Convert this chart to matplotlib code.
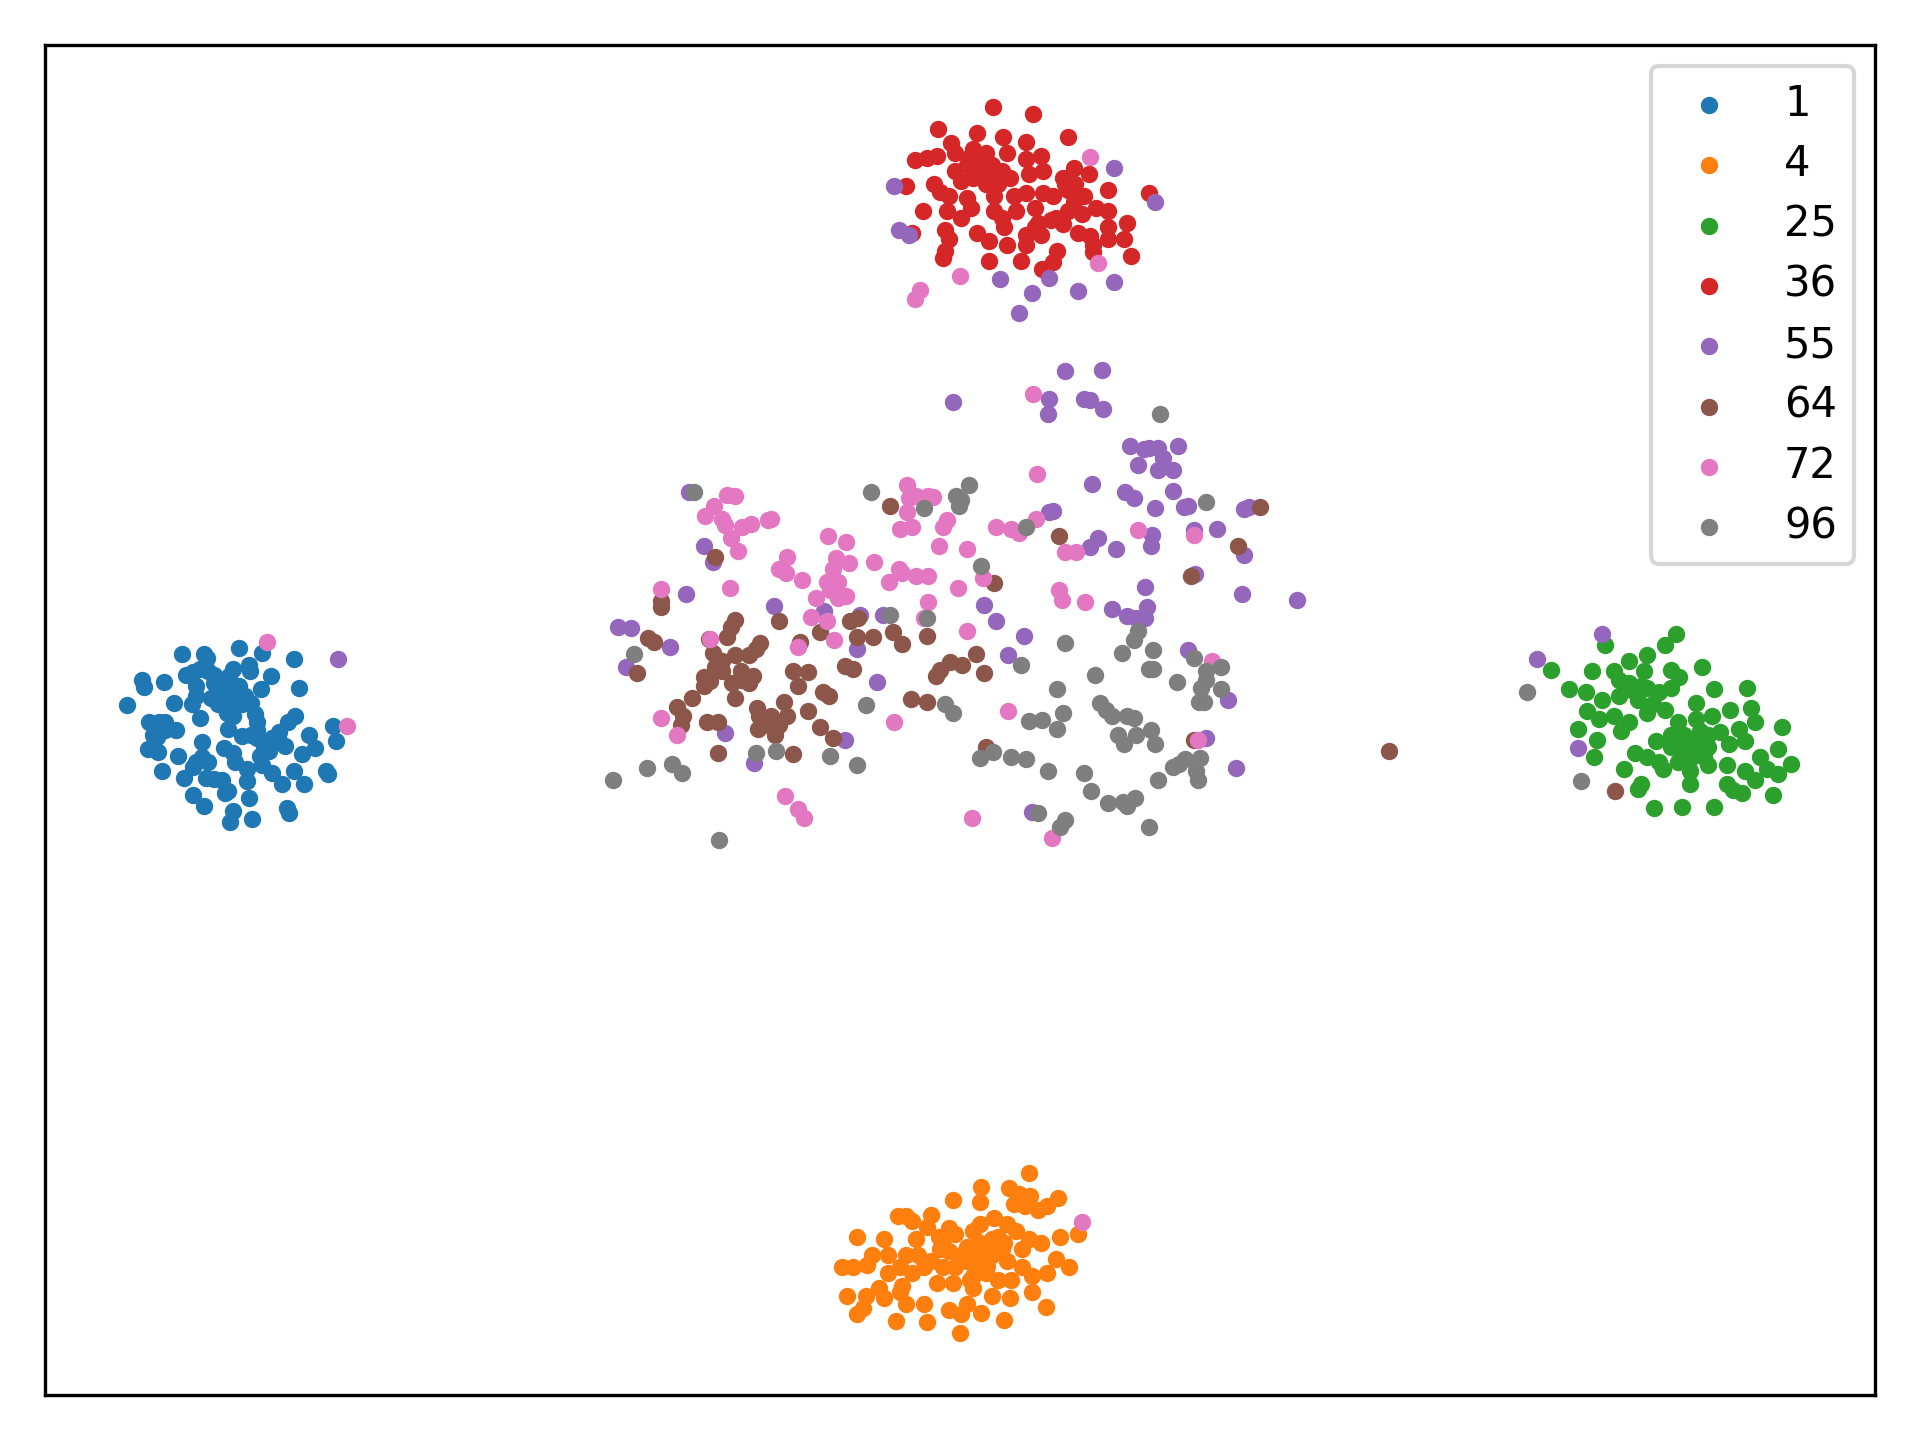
import matplotlib
matplotlib.use("Agg")
import matplotlib.pyplot as plt

labels = ["1", "4", "25", "36", "55", "64", "72", "96"]

c1 = [(104,576),(116,555),(118,561),(134,557),(149,534),(167,534),(169,537),(195,529),(214,533),(240,538),(152,551),(158,549),(163,546),(170,548),(175,551),(180,555),(190,546),(187,552),(203,543),(204,548),(221,552),(244,562),(160,560),(160,568),(157,575),(142,574),(177,565),(183,562),(190,565),(178,575),(187,572),(200,568),(205,574),(213,563),(122,590),(130,590),(135,590),(125,600),(128,602),(135,596),(144,596),(163,586),(186,595),(190,585),(208,583),(210,590),(198,601),(205,600),(210,603),(222,603),(228,598),(235,590),(241,585),(252,600),(272,593),(274,605),(121,612),(129,614),(145,617),(132,630),(150,635),(160,622),(165,618),(170,622),(183,611),(190,615),(165,606),(192,622),(202,628),(212,617),(220,613),(223,607),(233,609),(247,616),(257,611),(240,630),(248,640),(266,630),(268,632),(230,640),(222,631),(214,625),(202,638),(168,635),(175,636),(181,637),(186,646),(158,649),(167,658),(203,652),(234,660),(236,664),(190,662),(188,671),(206,669),(184,648),(175,558),(182,568),(195,560),(172,570),(210,596),(216,611),(228,605),(185,582),(198,575),(126,592),(158,626)]

c4 = [(840,958),(801,969),(824,970),(832,975),(828,983),(841,977),(864,978),(855,985),(848,988),(837,985),(800,982),(778,980),(760,992),(733,993),(740,993),(745,997),(880,1008),(866,1010),(850,1015),(840,1012),(830,1005),(822,1000),(812,995),(800,1000),(795,1005),(780,1008),(775,1003),(767,1010),(757,1002),(748,1012),(722,1012),(700,1010),(712,1025),(725,1025),(740,1025),(750,1025),(768,1020),(775,1022),(790,1018),(800,1015),(810,1012),(820,1015),(835,1020),(862,1028),(873,1035),(855,1040),(843,1042),(835,1035),(822,1030),(810,1025),(800,1030),(790,1030),(780,1035),(770,1035),(755,1035),(745,1040),(735,1035),(725,1040),(708,1033),(697,1035),(688,1035),(692,1058),(707,1058),(718,1052),(722,1060),(737,1050),(735,1055),(765,1048),(778,1048),(795,1042),(805,1040),(815,1045),(826,1045),(843,1055),(825,1060),(810,1058),(795,1052),(790,1065),(775,1070),(755,1065),(740,1065),(705,1068),(700,1073),(732,1079),(757,1080),(785,1073),(801,1072),(820,1078),(854,1067),(784,1089),(795,1020),(805,1022),(815,1010),(785,1025),(798,1038),(770,1012),(760,1030),(806,1034),(792,1045),(818,1020)]

c25 = [(1369,518),(1311,527),(1360,527),(1345,535),(1330,540),(1267,547),(1300,548),(1318,548),(1343,548),(1365,547),(1371,553),(1390,545),(1281,563),(1295,565),(1322,555),(1330,558),(1345,562),(1355,565),(1365,562),(1400,563),(1427,562),(1308,572),(1322,568),(1338,572),(1350,575),(1385,574),(1296,581),(1306,587),(1318,585),(1330,590),(1345,582),(1360,580),(1370,590),(1385,587),(1398,585),(1413,580),(1430,578),(1289,595),(1304,604),(1324,597),(1352,605),(1365,600),(1375,600),(1385,605),(1395,600),(1405,598),(1420,595),(1433,590),(1455,594),(1302,618),(1335,615),(1345,618),(1355,622),(1365,610),(1375,612),(1385,615),(1395,610),(1412,608),(1425,605),(1437,618),(1452,612),(1463,624),(1326,628),(1340,640),(1338,644),(1358,628),(1370,622),(1380,630),(1395,625),(1410,625),(1425,630),(1443,628),(1452,632),(1380,640),(1415,645),(1433,637),(1423,648),(1448,649),(1351,660),(1374,659),(1400,659),(1410,640),(1378,605),(1388,597),(1370,605),(1380,620),(1392,618),(1340,560),(1335,565),(1328,563)]

c36 = [(811,87),(844,93),(766,105),(798,109),(819,112),(838,116),(777,117),(872,112),(747,131),(757,129),(765,127),(780,125),(795,122),(805,125),(822,125),(838,130),(850,127),(877,137),(868,145),(889,142),(740,152),(763,150),(768,157),(780,140),(790,135),(800,130),(810,135),(818,140),(825,145),(840,142),(852,140),(805,150),(795,145),(785,148),(775,160),(790,162),(812,160),(838,158),(852,158),(860,160),(872,155),(885,160),(905,155),(938,158),(754,172),(773,172),(793,170),(812,172),(818,178),(830,172),(845,170),(858,180),(872,172),(877,165),(884,175),(895,170),(905,172),(772,188),(745,190),(785,178),(798,190),(820,185),(838,192),(845,185),(862,178),(868,183),(880,190),(890,193),(905,185),(920,182),(775,195),(808,197),(822,200),(838,200),(850,192),(863,205),(893,200),(905,195),(918,195),(770,211),(808,213),(834,213),(851,220),(860,214),(924,209),(893,206),(772,205),(800,138),(808,143),(792,128),(828,160),(870,150),(878,150),(848,182),(815,150)]

c55 = [(276,538),(1308,518),(1255,538),(1289,611),(730,152),(910,137),(943,165),(734,188),(742,192),(817,228),(843,239),(857,227),(880,238),(910,230),(832,256),(870,303),(900,302),(778,328),(857,326),(856,338),(885,326),(890,327),(901,334),(923,364),(934,367),(938,366),(946,366),(962,364),(950,374),(929,380),(946,384),(958,384),(892,395),(919,402),(926,407),(958,401),(860,417),(857,418),(943,415),(967,414),(970,413),(1016,416),(1020,414),(563,402),(975,433),(994,432),(1016,453),(575,446),(582,459),(560,485),(505,512),(515,513),(547,528),(511,545),(941,437),(940,446),(911,448),(897,439),(890,447),(976,469),(935,479),(1014,485),(1059,490),(632,495),(673,499),(702,502),(721,502),(804,494),(813,507),(908,497),(920,503),(928,505),(937,496),(935,505),(836,519),(823,535),(700,530),(716,557),(970,531),(1003,572),(985,603),(690,604),(592,599),(616,623),(1009,627),(843,663)]

c64 = [(1134,613),(1319,646),(1029,414),(727,413),(865,438),(1011,446),(584,455),(973,470),(812,476),(540,491),(540,496),(636,507),(600,506),(597,512),(701,505),(694,507),(529,521),(534,524),(579,522),(594,520),(621,525),(617,530),(653,524),(670,516),(700,520),(713,520),(729,516),(737,526),(757,519),(520,550),(582,533),(590,540),(600,535),(612,535),(584,545),(575,553),(590,548),(605,548),(615,552),(648,548),(660,549),(690,544),(697,546),(764,552),(768,547),(776,541),(786,543),(797,534),(804,550),(565,570),(575,560),(580,556),(598,558),(606,555),(612,558),(652,560),(672,565),(677,568),(744,571),(757,573),(553,577),(558,585),(556,592),(577,590),(586,590),(600,570),(618,578),(620,585),(630,585),(640,573),(643,585),(660,581),(619,595),(628,592),(633,600),(636,592),(670,594),(680,603),(586,615),(648,616),(805,610),(975,604)]

c72 = [(218,524),(283,593),(884,998),(890,128),(897,215),(784,225),(751,237),(747,244),(844,322),(847,387),(741,396),(594,404),(600,405),(583,413),(576,421),(590,424),(592,429),(606,430),(613,428),(627,425),(630,424),(597,439),(603,450),(742,407),(748,405),(758,405),(762,406),(741,418),(735,432),(745,430),(770,430),(773,425),(813,430),(826,432),(832,435),(846,424),(676,438),(691,443),(767,446),(790,448),(870,451),(879,451),(929,433),(975,437),(643,455),(636,465),(642,468),(655,474),(683,456),(680,465),(693,460),(714,459),(734,465),(737,468),(748,470),(758,470),(726,475),(675,475),(684,475),(678,482),(666,488),(684,488),(691,487),(596,480),(540,481),(782,480),(803,472),(865,482),(867,490),(886,492),(758,492),(662,504),(675,507),(755,505),(580,522),(652,528),(681,523),(790,515),(990,540),(540,586),(553,600),(730,590),(823,581),(978,604),(641,650),(652,661),(657,668),(794,668),(859,684)]

c96 = [(1247,565),(1291,638),(947,338),(567,402),(711,402),(791,396),(781,405),(785,408),(783,413),(755,415),(985,410),(838,430),(801,462),(727,502),(757,505),(929,515),(926,523),(870,525),(916,533),(518,534),(975,537),(942,531),(938,546),(942,546),(834,543),(894,551),(985,548),(997,545),(985,555),(961,557),(863,563),(997,563),(981,562),(983,573),(979,573),(707,576),(772,575),(778,582),(898,574),(903,580),(908,585),(920,585),(926,586),(840,589),(851,588),(868,582),(863,595),(913,600),(918,608),(928,600),(940,596),(943,608),(634,613),(617,615),(678,617),(700,625),(800,619),(811,614),(826,618),(838,620),(856,630),(885,631),(891,646),(905,656),(917,655),(927,652),(946,637),(958,626),(968,620),(980,619),(977,630),(978,637),(501,637),(528,627),(549,624),(557,631),(587,686),(848,664),(870,670),(866,675),(938,675),(920,658),(963,624)]

series = [c1, c4, c25, c36, c55, c64, c72, c96]

fig, ax = plt.subplots(figsize=(6.4, 4.8), dpi=300)
fig.subplots_adjust(left=37/1568, right=1531/1568, top=1-37/1176, bottom=1-1139/1176)
for name, pts in zip(labels, series):
    ax.scatter([p[0] for p in pts], [p[1] for p in pts], s=10, label=name)
ax.set_xlim(37, 1531)
ax.set_ylim(1139, 37)
ax.set_xticks([])
ax.set_yticks([])
ax.legend(loc="upper right", labelspacing=0.44)
fig.savefig("out.png")
